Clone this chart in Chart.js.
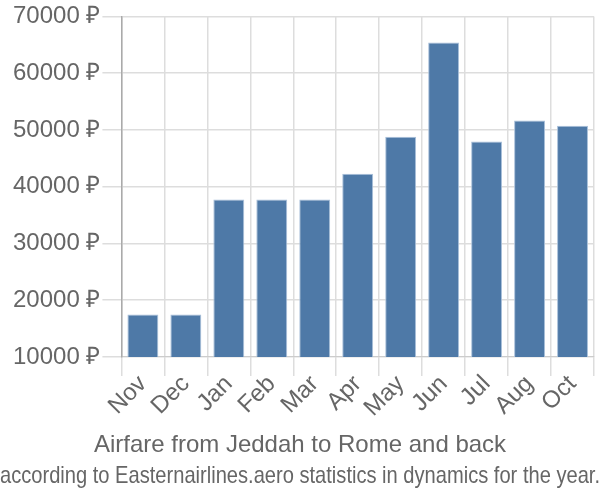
<!DOCTYPE html>
<html>
<head>
<meta charset="utf-8">
<script src="https://cdn.jsdelivr.net/npm/chart.js@4"></script>
<style>
html,body{margin:0;padding:0;background:#fff;}
#wrap{width:600px;height:500px;}
</style>
</head>
<body>
<div id="wrap"><canvas id="c" width="600" height="500"></canvas></div>
<script>
const categories = ["Nov","Dec","Jan","Feb","Mar","Apr","May","Jun","Jul","Aug","Oct"];
const prices = [17500,17500,37750,37750,37750,42300,48800,65400,47950,51650,50750];
const yTicks = [10000,20000,30000,40000,50000,60000,70000];
const titleText = "Airfare from Jeddah to Rome and back";
const subtitleText = "according to Easternairlines.aero statistics in dynamics for the year.";

Chart.defaults.font.family = "'Liberation Sans', Arial, sans-serif";
Chart.defaults.color = "#666";

new Chart(document.getElementById('c'), {
  type: 'bar',
  data: {
    labels: categories,
    datasets: [{
      data: prices,
      backgroundColor: '#4e79a7',
      borderColor: '#a9c0da',
      borderWidth: {top:1,left:1,right:1,bottom:0},
      barPercentage: 0.9,
      categoryPercentage: 0.8
    }]
  },
  options: {
    responsive: false,
    animation: false,
    layout: {padding: {left: 0, right: 0, top: 1, bottom: 0}},
    plugins: {
      legend: {display: false},
      tooltip: {enabled: false},
      title: {
        display: true, position: 'bottom', text: titleText, weight: 500,
        font: {size: 24, weight: 'normal'}, color: '#666',
        padding: {top: 13, bottom: 2}
      },
      subtitle: {
        display: true, position: 'bottom', text: subtitleText, weight: 1000,
        font: {size: 24, weight: 'normal'}, color: '#666',
        padding: {top: 0, bottom: 9}
      }
    },
    scales: {
      x: {
        grid: {color: '#dddddd', lineWidth: 1.5, tickLength: 19, offset: true},
        border: {color: '#cccccc'},
        ticks: {font: {size: 24}, maxRotation: 45, minRotation: 45, autoSkip: false, color: '#666', padding: -6},
        afterFit: (axis) => { axis.paddingRight = Math.max(axis.paddingRight || 0, 6); axis.height += 2; }
      },
      y: {
        min: 10000, max: 70000,
        afterBuildTicks: (axis) => { axis.ticks = yTicks.map(v => ({value: v})); },
        afterFit: (axis) => { axis.width += 11; },
        grid: {color: '#dddddd', lineWidth: 1.5, tickLength: 19},
        border: {color: '#aaaaaa', width: 1.5},
        ticks: {font: {size: 24}, color: '#666', padding: 2,
          callback: (v) => v + ' ₽'}
      }
    }
  }
});
</script>
</body>
</html>
